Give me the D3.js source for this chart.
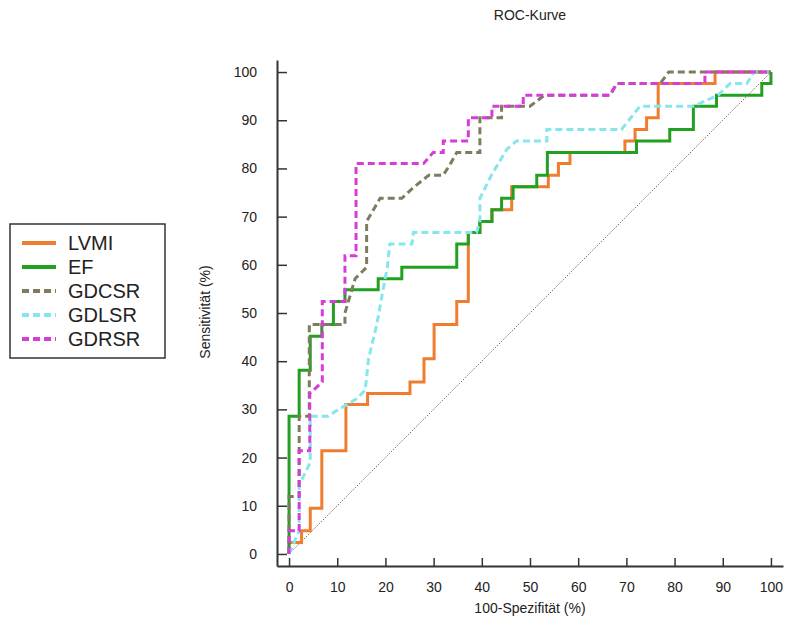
<!DOCTYPE html>
<html>
<head>
<meta charset="utf-8">
<script src="https://cdn.jsdelivr.net/npm/d3@7"></script>
<style>
  body { margin: 0; background: #fff; }
  svg { display: block; font-family: "Liberation Sans", Arial, sans-serif; }
</style>
</head>
<body>
<svg id="chart" width="790" height="631"></svg>
<script>
// ---- data (x = 100-Spezifität %, y = Sensitivität %) ----
const seriesNames = ["LVMI", "EF", "GDCSR", "GDLSR", "GDRSR"];
const xTicks = [0, 10, 20, 30, 40, 50, 60, 70, 80, 90, 100];
const yTicks = [0, 10, 20, 30, 40, 50, 60, 70, 80, 90, 100];

const lvmiPoints = [[0,0],[0,2.4],[2.6,2.4],[2.6,4.8],[4.4,4.8],[4.4,9.5],[6.8,9.5],[6.8,21.4],[11.8,21.4],[11.8,31],[16.3,31],[16.3,33.3],[25.1,33.3],[25.1,35.7],[28,35.7],[28,40.5],[30.1,40.5],[30.1,47.6],[34.8,47.6],[34.8,52.4],[37.2,52.4],[37.2,66.7],[39.6,66.7],[39.6,69],[42.1,69],[42.1,71.4],[46.2,71.4],[46.2,76.2],[53.8,76.2],[53.8,78.6],[55.9,78.6],[55.9,81],[58.3,81],[58.3,83.3],[69.7,83.3],[69.7,85.7],[71.8,85.7],[71.8,88.1],[74.2,88.1],[74.2,90.5],[76.6,90.5],[76.6,97.6],[88.4,97.6],[88.4,100],[100,100]];

const efPoints = [[0,0],[0,28.6],[2.1,28.6],[2.1,38.1],[4.4,38.1],[4.4,45.2],[6.8,45.2],[6.8,47.6],[9.2,47.6],[9.2,52.4],[11.6,52.4],[11.6,54.8],[18.5,54.8],[18.5,57.1],[23.4,57.1],[23.4,59.5],[34.8,59.5],[34.8,64.3],[37.2,64.3],[37.2,66.7],[39.6,66.7],[39.6,69],[42.1,69],[42.1,71.4],[44.1,71.4],[44.1,73.8],[46.5,73.8],[46.5,76.2],[51.4,76.2],[51.4,78.6],[53.6,78.6],[53.6,83.3],[72.1,83.3],[72.1,85.7],[79,85.7],[79,88.1],[83.9,88.1],[83.9,92.9],[88.7,92.9],[88.7,95.2],[98.1,95.2],[98.1,97.6],[100,97.6],[100,100]];

const gdcsrPoints = [[0,0],[0,11.9],[2.1,11.9],[2.1,28.6],[4.2,28.6],[4.2,47.6],[11.6,47.6],[11.6,50],[13.7,57.1],[16.1,59.5],[16.1,69],[18.9,73.8],[23.4,73.8],[26,76.2],[29,78.6],[32,78.6],[33.5,81],[34.8,83.3],[39.6,83.3],[39.6,90.5],[44.1,90.5],[44.1,92.9],[50,92.9],[53,95.2],[66.6,95.2],[68,97.6],[77,97.6],[78.8,100],[100,100]];

const gdlsrPoints = [[0,0],[2.1,4.8],[2.1,14.3],[4.4,19],[4.4,28.6],[8.1,28.6],[10,29.8],[12,31],[14,32.2],[15.8,34],[16.5,40.5],[18.2,47.6],[19.5,54.8],[20.4,59.5],[20.9,64.3],[25.5,64.3],[25.8,66.7],[38.9,66.7],[39.6,69],[39.6,73.8],[42,78.6],[45.2,84],[47.2,85.7],[53.5,85.7],[53.5,88.1],[69,88.1],[72.8,92.9],[83.9,92.9],[89,95.2],[91.5,97.6],[95,97.6],[96.5,100],[100,100]];

const gdrsrPoints = [[0,0],[0,4.8],[2.1,4.8],[2.1,21.4],[4.3,21.4],[4.3,33.3],[6.9,35.7],[6.9,52.4],[11.6,52.4],[11.6,61.9],[13.9,61.9],[13.9,81],[27.9,81],[29.9,83.3],[32,83.3],[32,85.7],[37.2,85.7],[37.2,90.5],[42.1,90.5],[42.1,92.9],[48.6,92.9],[48.6,95.2],[66.6,95.2],[68,97.6],[86.3,97.6],[86.3,100],[100,100]];

const seriesData = [lvmiPoints, efPoints, gdcsrPoints, gdlsrPoints, gdrsrPoints];

// ---- styles ----
const colors = ["#ef7d30", "#22a022", "#7f7c5e", "#86e6ee", "#d83cd8"];
const dashes = [null, null, "7,4", "7,4", "7,4"];

const svg = d3.select("#chart");

const x = d3.scaleLinear().domain([-2.5, 102.5]).range([277, 783]);
const y = d3.scaleLinear().domain([-2.5, 102.5]).range([566, 60]);

// title
svg.append("text").attr("x", 530).attr("y", 20).attr("text-anchor", "middle")
  .attr("font-size", 14).attr("fill", "#222").text("ROC-Kurve");

// axes
const xAxis = d3.axisBottom(x).tickValues(xTicks).tickSizeInner(-8).tickSizeOuter(0).tickPadding(16);
const yAxis = d3.axisLeft(y).tickValues(yTicks).tickSizeInner(-10).tickSizeOuter(0).tickPadding(20);

const gx = svg.append("g").attr("transform", `translate(0,${y(-2.5)})`).call(xAxis);
const gy = svg.append("g").attr("transform", `translate(${x(-2.5)},0)`).call(yAxis);
[gx, gy].forEach(g => {
  g.select(".domain").attr("stroke", "#333").attr("stroke-width", 2);
  g.selectAll(".tick line").attr("stroke", "#333").attr("stroke-width", 1.5);
  g.selectAll(".tick text").attr("font-size", 14).attr("fill", "#222")
    .attr("font-family", "Liberation Sans, Arial, sans-serif");
});

// axis titles
svg.append("text").attr("x", 530).attr("y", 613).attr("text-anchor", "middle")
  .attr("font-size", 14).attr("fill", "#222").text("100-Spezifität (%)");
svg.append("text").attr("transform", "translate(210,312) rotate(-90)")
  .attr("text-anchor", "middle").attr("font-size", 14).attr("fill", "#222")
  .text("Sensitivität (%)");

// diagonal reference
svg.append("line")
  .attr("x1", x(0)).attr("y1", y(0)).attr("x2", x(100)).attr("y2", y(100))
  .attr("stroke", "#9a6060").attr("stroke-width", 1).attr("stroke-dasharray", "1.5,1.5");

// curves
const line = d3.line().x(d => x(d[0])).y(d => y(d[1])).curve(d3.curveLinear);
seriesData.forEach((pts, i) => {
  svg.append("path").datum(pts)
    .attr("d", line)
    .attr("fill", "none")
    .attr("stroke", colors[i])
    .attr("stroke-width", 3)
    .attr("stroke-linejoin", "miter")
    .attr("stroke-dasharray", dashes[i]);
});

// legend
const lg = svg.append("g");
lg.append("rect").attr("x", 10).attr("y", 224).attr("width", 155).attr("height", 134)
  .attr("fill", "#fff").attr("stroke", "#333").attr("stroke-width", 1.5);
seriesNames.forEach((name, i) => {
  const cy = 243 + i * 24;
  lg.append("line").attr("x1", 22).attr("x2", 56).attr("y1", cy).attr("y2", cy)
    .attr("stroke", colors[i]).attr("stroke-width", 4)
    .attr("stroke-dasharray", dashes[i]);
  lg.append("text").attr("x", 68).attr("y", cy).attr("dy", "0.36em")
    .attr("font-size", 20).attr("fill", "#222").text(name);
});
</script>
</body>
</html>
